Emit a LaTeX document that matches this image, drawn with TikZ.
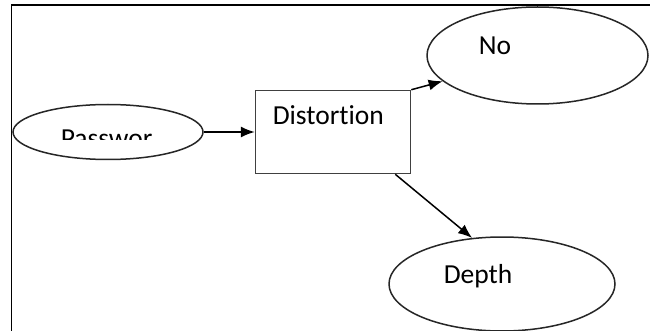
\documentclass[tikz,border=0pt]{standalone}
\usepackage{fontspec}
\setmainfont[Ligatures=NoCommon]{Carlito}
\usetikzlibrary{positioning,arrows.meta,shapes.geometric}

\begin{document}
\begin{tikzpicture}[x=1pt,y=-1pt,>={Latex[length=14pt,width=11pt]},line width=1.5pt,
    every node/.style={font=\fontsize{27.5}{30}\selectfont,text=black},
    oval/.style={draw=black!85,ellipse,inner sep=0pt},
    txt/.style={anchor=base west,inner sep=0pt}]
        \clip (0,0) rectangle (650,331);
        \fill[white] (0,0) rectangle (650,331);
        \draw[line width=1.8pt] (11.5,345) |- (660,5);
        % nodes
        \node[oval,minimum width=190pt,minimum height=55pt] (pw) at (108,132) {};
        \node[draw=black!75,minimum width=155pt,minimum height=83pt,inner sep=0pt,right=51pt of pw] (dist) {};
        \node[oval,minimum width=221pt,minimum height=97pt] (nofb) at (537.5,55.5) {};
        \node[oval,minimum width=226pt,minimum height=94pt] (depth) at (502,284) {};
        % labels
        \begin{scope}
            \clip (0,0) rectangle (650,140);
            \node[txt] (pwtxt) at (60,148) {Passwor};
        \end{scope}
        \node[txt] (disttxt) at (272,125) {Distortion};
        \node[txt] (notxt) at (478,55) {No};
        \node[txt] (depthtxt) at (443,283) {Depth};
        % arrows
        \draw[->] (pw) -- (dist);
        \draw[->] (dist.north east) -- (nofb);
        \draw[->] ([xshift=-16pt]dist.south east) -- (depth.123);
\end{tikzpicture}
\end{document}
